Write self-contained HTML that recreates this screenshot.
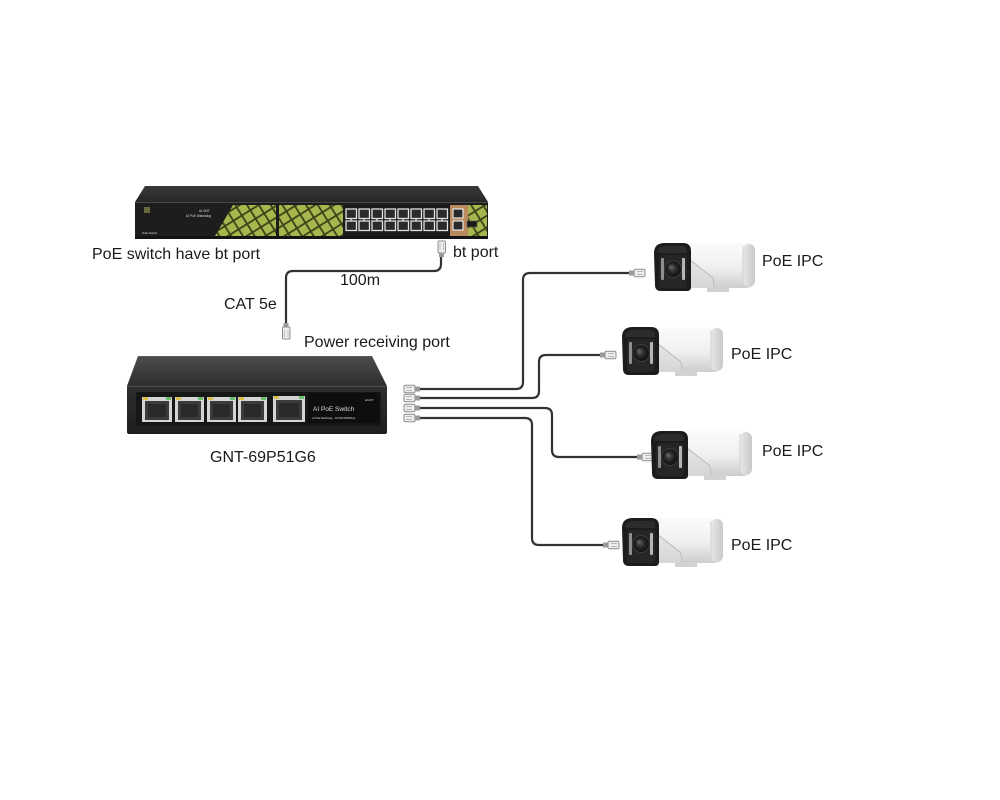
<!DOCTYPE html>
<html>
<head>
<meta charset="utf-8">
<style>
  html,body{margin:0;padding:0;background:#fff;}
  body{width:1000px;height:800px;overflow:hidden;}
  svg{display:block;}
  .lbl{font-family:"Liberation Sans",Arial,sans-serif;font-size:16px;fill:#1a1a1a;}
  .tiny{font-family:"Liberation Sans",Arial,sans-serif;fill:#ddd;}
</style>
</head>
<body>
<svg width="1000" height="800" viewBox="0 0 1000 800" xmlns="http://www.w3.org/2000/svg">
  <defs>
    <pattern id="hatch" width="10" height="10" patternUnits="userSpaceOnUse" patternTransform="rotate(-32)">
      <rect width="10" height="10" fill="#a8b64e"/>
      <rect width="10" height="1.8" fill="#3d4219"/>
      <rect width="1.8" height="10" fill="#3d4219"/>
    </pattern>
    <linearGradient id="topSw" x1="0" y1="0" x2="0" y2="1">
      <stop offset="0" stop-color="#3a3a3a"/>
      <stop offset="1" stop-color="#262626"/>
    </linearGradient>
    <linearGradient id="topSmall" x1="0" y1="0" x2="0" y2="1">
      <stop offset="0" stop-color="#4d4d4d"/>
      <stop offset="1" stop-color="#2f2f2f"/>
    </linearGradient>
    <linearGradient id="frontSmall" x1="0" y1="0" x2="0" y2="1">
      <stop offset="0" stop-color="#2e2e2e"/>
      <stop offset="1" stop-color="#1e1e1e"/>
    </linearGradient>
    <linearGradient id="camBody" x1="0" y1="0" x2="0" y2="1">
      <stop offset="0" stop-color="#fbfbfb"/>
      <stop offset="0.55" stop-color="#f0f0f0"/>
      <stop offset="1" stop-color="#cdcdcd"/>
    </linearGradient>
    <linearGradient id="camEnd" x1="0" y1="0" x2="1" y2="0">
      <stop offset="0" stop-color="#e8e8e8"/>
      <stop offset="1" stop-color="#c8c8c8"/>
    </linearGradient>
    <radialGradient id="lens" cx="0.45" cy="0.45" r="0.6">
      <stop offset="0" stop-color="#555"/>
      <stop offset="0.5" stop-color="#222"/>
      <stop offset="1" stop-color="#0d0d0d"/>
    </radialGradient>

    <g id="cam">
      <rect x="26" y="2" width="76" height="45" rx="9" fill="url(#camBody)"/>
      <rect x="90" y="3" width="12" height="43" rx="6" fill="url(#camEnd)"/>
      <line x1="90" y1="5" x2="90" y2="44" stroke="#d2d2d2" stroke-width="1"/>
      <polygon points="36,18 60,37 62,47 36,47" fill="#dadada" opacity="0.7"/>
      <line x1="36" y1="18" x2="60" y2="37" stroke="#b9b9b9" stroke-width="1"/>
      <line x1="60" y1="37" x2="61" y2="46" stroke="#bdbdbd" stroke-width="1"/>
      <rect x="54" y="46" width="22" height="5" fill="#d2d2d2"/>
      <path d="M1,12 Q1,2 12,2 L30,2 Q38,2 38,10 L38,46 Q38,50 34,50 L8,50 Q2,50 2,44 Z" fill="#1c1c1c"/>
      <path d="M4,12 Q5,5 13,5 L30,5 Q34,5 34,10 L34,12 Z" fill="#2c2c2c"/>
      <rect x="6" y="14" width="28" height="33" rx="3" fill="#262626"/>
      <rect x="8" y="17" width="3" height="22" rx="1" fill="#8f8f8f"/>
      <rect x="29" y="17" width="3" height="22" rx="1" fill="#b5b5b5"/>
      <circle cx="20" cy="28" r="8.5" fill="url(#lens)" stroke="#3c3c3c" stroke-width="1"/>
      <circle cx="18" cy="26" r="2" fill="#6a6a6a" opacity="0.6"/>
    </g>

    <g id="plugR">
      <rect x="0" y="-2.5" width="5" height="5" fill="#9a9a9a"/>
      <rect x="5" y="-3.8" width="11" height="7.6" rx="1.5" fill="#eeeeee" stroke="#8d8d8d" stroke-width="1"/>
      <line x1="8" y1="-1.5" x2="14" y2="-1.5" stroke="#aaa" stroke-width="0.8"/>
      <line x1="8" y1="1.5" x2="14" y2="1.5" stroke="#aaa" stroke-width="0.8"/>
    </g>
    <g id="plugL">
      <rect x="-16" y="-3.8" width="11" height="7.6" rx="1.5" fill="#eeeeee" stroke="#8d8d8d" stroke-width="1"/>
      <line x1="-14" y1="-1.5" x2="-8" y2="-1.5" stroke="#aaa" stroke-width="0.8"/>
      <line x1="-14" y1="1.5" x2="-8" y2="1.5" stroke="#aaa" stroke-width="0.8"/>
      <rect x="-5" y="-2.5" width="5" height="5" fill="#9a9a9a"/>
    </g>
  </defs>

  <rect width="1000" height="800" fill="#fff"/>

  <!-- Top PoE switch -->
  <polygon points="145,186 478,186 488,202 135,202" fill="url(#topSw)"/>
  <rect x="135" y="202" width="353" height="37" fill="#1d1d1d"/>
  <line x1="135" y1="202.5" x2="488" y2="202.5" stroke="#4a4a4a" stroke-width="1"/>
  <rect x="135" y="236" width="353" height="3" fill="#141414"/>
  <rect x="144" y="207" width="6" height="6" fill="#6a6a40"/>
  <text class="tiny" x="199" y="212" font-size="3.2">AI-GNT</text>
  <text class="tiny" x="186" y="217" font-size="3.2">AI PoE Watchdog</text>
  <text class="tiny" x="142" y="234" font-size="3">PoE Switch</text>
  <polygon points="233,205 276,205 276,236 215,236" fill="url(#hatch)"/>
  <rect x="279" y="205" width="64" height="31" fill="url(#hatch)"/>
  <polygon points="468,205 487,205 487,236 468,236" fill="url(#hatch)"/>
  <rect x="343" y="205" width="107" height="31" fill="#1a1a1a"/>
  <g fill="#2a2a2a" stroke="#e2e2e2" stroke-width="1.3">
    <rect x="346" y="209" width="10.5" height="9.5"/>
    <rect x="359" y="209" width="10.5" height="9.5"/>
    <rect x="372" y="209" width="10.5" height="9.5"/>
    <rect x="385" y="209" width="10.5" height="9.5"/>
    <rect x="398" y="209" width="10.5" height="9.5"/>
    <rect x="411" y="209" width="10.5" height="9.5"/>
    <rect x="424" y="209" width="10.5" height="9.5"/>
    <rect x="437" y="209" width="10.5" height="9.5"/>
    <rect x="346" y="221" width="10.5" height="9.5"/>
    <rect x="359" y="221" width="10.5" height="9.5"/>
    <rect x="372" y="221" width="10.5" height="9.5"/>
    <rect x="385" y="221" width="10.5" height="9.5"/>
    <rect x="398" y="221" width="10.5" height="9.5"/>
    <rect x="411" y="221" width="10.5" height="9.5"/>
    <rect x="424" y="221" width="10.5" height="9.5"/>
    <rect x="437" y="221" width="10.5" height="9.5"/>
  </g>
  <g stroke="#e2e2e2" stroke-width="1.3">
    <line x1="351" y1="218.5" x2="351" y2="221"/>
    <line x1="364" y1="218.5" x2="364" y2="221"/>
    <line x1="377" y1="218.5" x2="377" y2="221"/>
    <line x1="390" y1="218.5" x2="390" y2="221"/>
    <line x1="403" y1="218.5" x2="403" y2="221"/>
    <line x1="416" y1="218.5" x2="416" y2="221"/>
    <line x1="429" y1="218.5" x2="429" y2="221"/>
    <line x1="442" y1="218.5" x2="442" y2="221"/>
  </g>
  <rect x="450" y="205" width="18" height="31" fill="#b98a5e"/>
  <rect x="453" y="209" width="10" height="9" fill="#2a2a2a" stroke="#e6e6e6" stroke-width="1.2"/>
  <rect x="453" y="221" width="10" height="9" fill="#2a2a2a" stroke="#e6e6e6" stroke-width="1.2"/>
  <rect x="467" y="221" width="10" height="6" fill="#1a1a1a" stroke="#555" stroke-width="0.6"/>

  <!-- Cable bt port -> power receiving port -->
  <path d="M441,256 L441,264 Q441,271 434,271 L293,271 Q286,271 286,278 L286,324" fill="none" stroke="#333" stroke-width="2.2"/>
  <rect x="438" y="241" width="7.5" height="12" rx="1.2" fill="#eee" stroke="#8d8d8d" stroke-width="1"/>
  <line x1="440" y1="243" x2="440" y2="250" stroke="#aaa" stroke-width="0.7"/>
  <line x1="443.5" y1="243" x2="443.5" y2="250" stroke="#aaa" stroke-width="0.7"/>
  <rect x="439" y="253" width="5" height="4" fill="#9a9a9a"/>
  <rect x="283.5" y="323" width="5" height="4" fill="#9a9a9a"/>
  <rect x="282.5" y="327" width="7.5" height="12" rx="1.2" fill="#eee" stroke="#8d8d8d" stroke-width="1"/>
  <line x1="284.5" y1="330" x2="284.5" y2="337" stroke="#aaa" stroke-width="0.7"/>
  <line x1="288" y1="330" x2="288" y2="337" stroke="#aaa" stroke-width="0.7"/>

  <!-- Small switch -->
  <polygon points="138,356 372,356 387,386 127,386" fill="url(#topSmall)"/>
  <line x1="138" y1="356.5" x2="372" y2="356.5" stroke="#5a5a5a" stroke-width="1"/>
  <rect x="127" y="386" width="260" height="48" rx="2" fill="url(#frontSmall)"/>
  <line x1="127" y1="386.5" x2="387" y2="386.5" stroke="#4a4a4a" stroke-width="1"/>
  <rect x="136" y="392" width="245" height="34" rx="1" fill="#161616"/>
  <g>
    <rect x="142" y="397" width="30" height="25" fill="#d4d4d4"/>
    <rect x="145" y="401" width="24" height="19" fill="#3b3b3b"/>
    <rect x="148" y="404" width="18" height="13" fill="#2a2a2a"/>
    <rect x="143" y="397" width="5" height="3" fill="#d9c04a"/>
    <rect x="166" y="397" width="5" height="3" fill="#6cbf6a"/>

    <rect x="175" y="397" width="29" height="25" fill="#d4d4d4"/>
    <rect x="178" y="401" width="23" height="19" fill="#3b3b3b"/>
    <rect x="181" y="404" width="17" height="13" fill="#2a2a2a"/>
    <rect x="176" y="397" width="5" height="3" fill="#d9c04a"/>
    <rect x="198" y="397" width="5" height="3" fill="#6cbf6a"/>

    <rect x="207" y="397" width="29" height="25" fill="#d4d4d4"/>
    <rect x="210" y="401" width="23" height="19" fill="#3b3b3b"/>
    <rect x="213" y="404" width="17" height="13" fill="#2a2a2a"/>
    <rect x="208" y="397" width="5" height="3" fill="#d9c04a"/>
    <rect x="230" y="397" width="5" height="3" fill="#6cbf6a"/>

    <rect x="238" y="397" width="29" height="25" fill="#d4d4d4"/>
    <rect x="241" y="401" width="23" height="19" fill="#3b3b3b"/>
    <rect x="244" y="404" width="17" height="13" fill="#2a2a2a"/>
    <rect x="239" y="397" width="5" height="3" fill="#d9c04a"/>
    <rect x="261" y="397" width="5" height="3" fill="#6cbf6a"/>

    <rect x="273" y="396" width="32" height="26" fill="#d4d4d4"/>
    <rect x="276" y="400" width="26" height="20" fill="#3b3b3b"/>
    <rect x="279" y="403" width="20" height="14" fill="#2a2a2a"/>
    <rect x="274" y="396" width="5" height="3" fill="#d9c04a"/>
    <rect x="299" y="396" width="5" height="3" fill="#6cbf6a"/>
  </g>
  <rect x="308" y="393" width="71" height="30" fill="#0e0e0e"/>
  <text class="tiny" x="313" y="411" font-size="6.5">AI PoE Switch</text>
  <text class="tiny" x="365" y="401" font-size="3">aiGNT</text>
  <text class="tiny" x="312" y="419" font-size="2.6">AI PoE Watchdog · 10/100/1000Mbps</text>

  <!-- Cables to cameras -->
  <g fill="none" stroke="#333" stroke-width="2.2">
    <path d="M420,389 L516,389 Q523,389 523,382 L523,280 Q523,273 530,273 L630,273"/>
    <path d="M420,398 L532,398 Q539,398 539,391 L539,362 Q539,355 546,355 L601,355"/>
    <path d="M420,408 L545,408 Q552,408 552,415 L552,450 Q552,457 559,457 L638,457"/>
    <path d="M420,418 L525,418 Q532,418 532,425 L532,538 Q532,545 539,545 L604,545"/>
  </g>
  <use href="#plugL" x="420" y="389"/>
  <use href="#plugL" x="420" y="398"/>
  <use href="#plugL" x="420" y="408"/>
  <use href="#plugL" x="420" y="418"/>
  <use href="#plugR" x="629" y="273"/>
  <use href="#plugR" x="600" y="355"/>
  <use href="#plugR" x="637" y="457"/>
  <use href="#plugR" x="603" y="545"/>

  <!-- Cameras -->
  <use href="#cam" x="653" y="241"/>
  <use href="#cam" x="621" y="325"/>
  <use href="#cam" x="650" y="429"/>
  <use href="#cam" x="621" y="516"/>

  <!-- Labels -->
  <text class="lbl" x="92" y="259">PoE switch have bt port</text>
  <text class="lbl" x="453" y="257">bt port</text>
  <text class="lbl" x="340" y="285">100m</text>
  <text class="lbl" x="224" y="309">CAT 5e</text>
  <text class="lbl" x="304" y="347">Power receiving port</text>
  <text class="lbl" x="210" y="462">GNT-69P51G6</text>
  <text class="lbl" x="762" y="266">PoE IPC</text>
  <text class="lbl" x="731" y="359">PoE IPC</text>
  <text class="lbl" x="762" y="456">PoE IPC</text>
  <text class="lbl" x="731" y="550">PoE IPC</text>
</svg>
</body>
</html>
